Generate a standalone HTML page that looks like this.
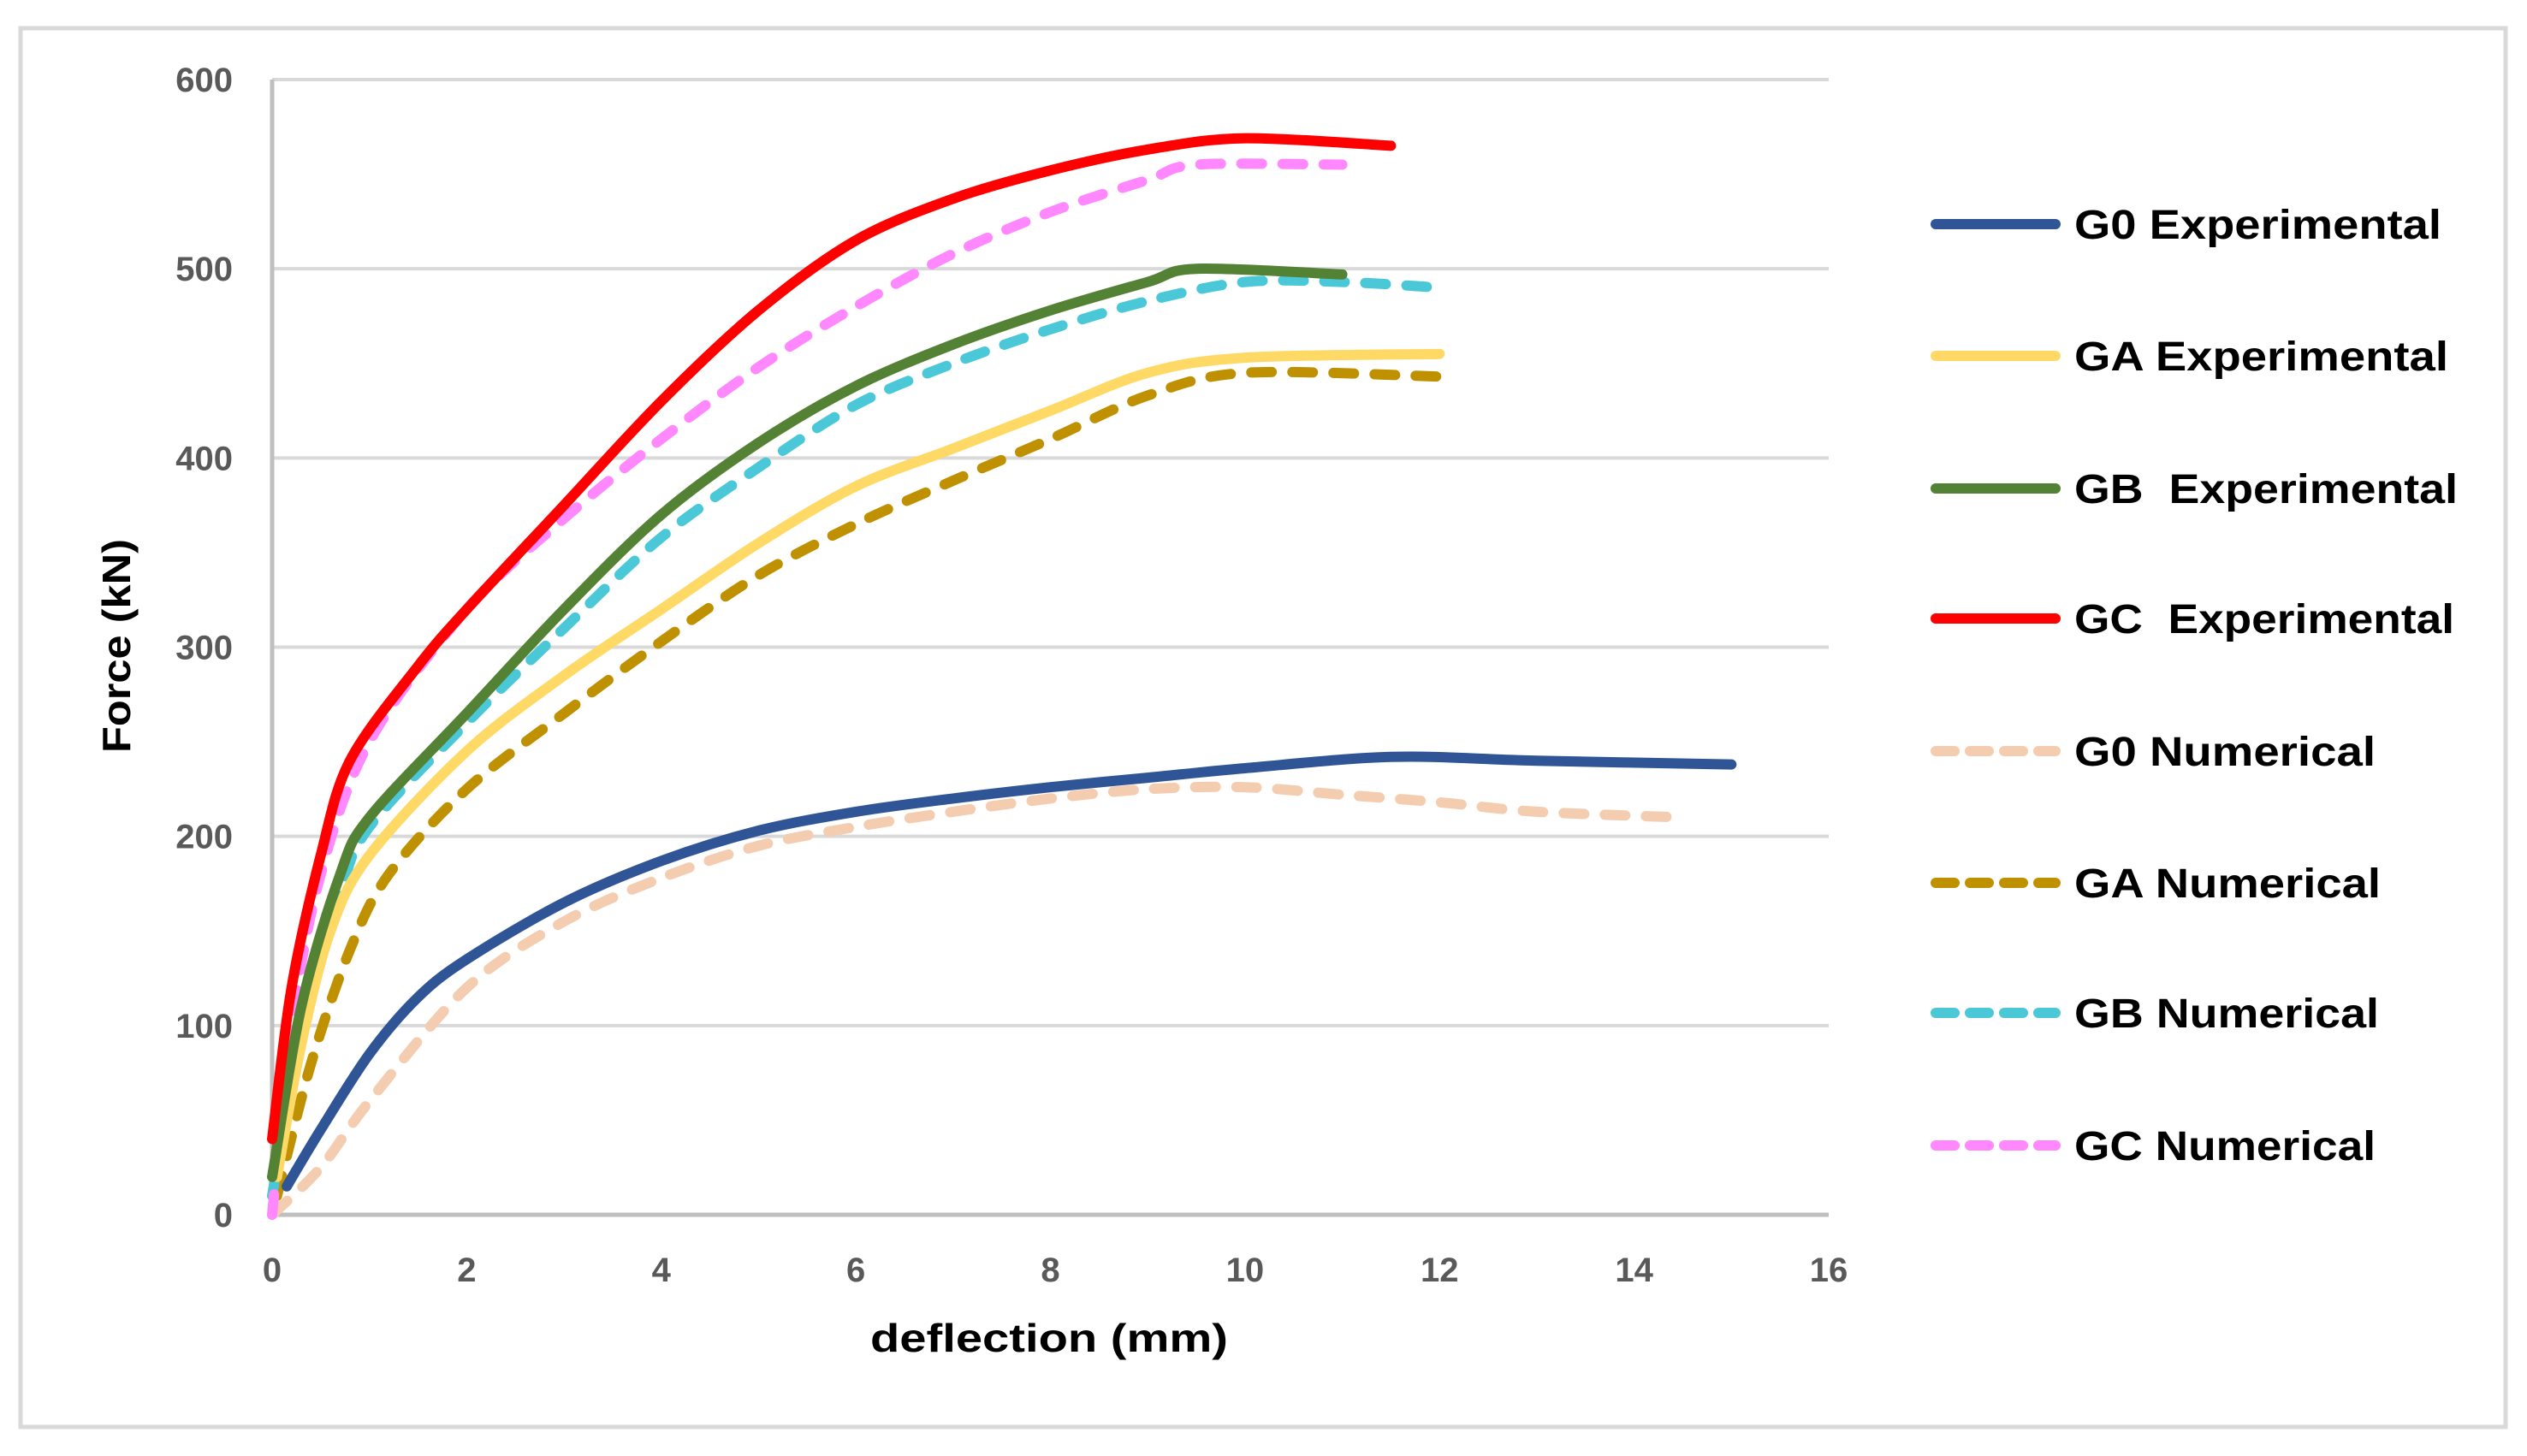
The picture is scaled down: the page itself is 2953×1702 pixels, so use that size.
<!DOCTYPE html>
<html><head><meta charset="utf-8"><style>
html,body{margin:0;padding:0;background:#fff;}
svg{display:block;font-family:"Liberation Sans",sans-serif;}
</style></head><body>
<svg id="chart" width="2953" height="1702" viewBox="0 0 2953 1702" xmlns="http://www.w3.org/2000/svg">
<rect x="24" y="33" width="2904" height="1635" fill="#fff" stroke="#d9d9d9" stroke-width="5"/>
<g id="grid"></g>
<g id="axes"></g>
<g id="series"></g>
<g id="legend"></g>
<text x="1226" y="1580" text-anchor="middle" font-size="46" font-weight="bold" fill="#000" textLength="418" lengthAdjust="spacingAndGlyphs">deflection (mm)</text>
<text transform="translate(152,755) rotate(-90)" text-anchor="middle" font-size="46" font-weight="bold" fill="#000" textLength="250" lengthAdjust="spacingAndGlyphs">Force (kN)</text>
</svg>
<script>
const xTicks=[0,2,4,6,8,10,12,14,16];
const yTicks=[0,100,200,300,400,500,600];
const seriesNames=["G0 Experimental","GA Experimental","GB\u00a0\u00a0Experimental","GC\u00a0\u00a0Experimental","G0 Numerical","GA Numerical","GB Numerical","GC Numerical"];
const legendWidths=[429,437,448,444,352,358,356,352];
const seriesColors=["#2F5597","#FFD966","#548235","#FF0000","#F4CCB0","#BF9000","#4BC8D8","#FF88FF"];
const seriesDashed=[false,false,false,false,true,true,true,true];
const g0Exp=[[0.15,15],[0.5,45],[1,85],[1.5,115],[2,135],[3,165],[4,187],[5,203],[6,213],[7,220],[8,226],[9,231],[10,236],[11.5,242],[13,240],[15,238]];
const gaExp=[[0.05,20],[0.3,90],[0.6,150],[1,190],[2,245],[3,285],[4,320],[5,355],[6,385],[7,405],[8,425],[9,445],[10,453],[12,455]];
const gbExp=[[0,20],[0.3,110],[0.7,180],[1,210],[2,265],[3,320],[4,370],[5,408],[6,438],[7,460],[8,478],[9,493],[9.5,500],[11,497]];
const gcExp=[[0,40],[0.2,120],[0.5,190],[0.8,240],[1.5,290],[2,320],[3,375],[4,430],[5,478],[6,515],[7,537],[8,552],[9,563],[10,569],[11.5,565]];
const g0Num=[[0,0],[0.5,25],[1,60],[2,120],[3,155],[4,178],[5,195],[6,205],[7,213],[8,220],[9,225],[10,226],[11,222],[12,218],[13,213],[14.5,210]];
const gaNum=[[0.05,10],[0.4,80],[0.8,140],[1.2,180],[2,225],[3,265],[4,303],[5,338],[6,365],[7,388],[8,410],[9,433],[10,445],[12,443]];
const gbNum=[[0,10],[0.3,100],[0.7,170],[1,205],[2,260],[3,310],[4,358],[5,395],[6,428],[7,450],[8,468],[9,483],[10,493],[11,493],[12,490]];
const gcNum=[[0,0],[0.2,100],[0.5,180],[1,250],[2,320],[3,368],[4,410],[5,448],[6,480],[7,508],[8,530],[9,547],[9.5,555],[11,555]];
const allSeries=[g0Exp,gaExp,gbExp,gcExp,g0Num,gaNum,gbNum,gcNum];
const X0=318,X1=2137,Y0=1420,Y1=93;
function sx(v){return X0+(v-0)/(16-0)*(X1-X0);}
function sy(v){return Y0-(v-0)/(600-0)*(Y0-Y1);}
const NS="http://www.w3.org/2000/svg";
function mk(tag,attrs,parent){const e=document.createElementNS(NS,tag);for(const k in attrs)e.setAttribute(k,attrs[k]);parent.appendChild(e);return e;}
function smooth(pts){
  let d='M'+pts[0][0].toFixed(1)+' '+pts[0][1].toFixed(1);
  for(let i=0;i<pts.length-1;i++){
    const p0=pts[Math.max(0,i-1)],p1=pts[i],p2=pts[i+1],p3=pts[Math.min(pts.length-1,i+2)];
    const t=0.16;
    const c1=[p1[0]+(p2[0]-p0[0])*t,p1[1]+(p2[1]-p0[1])*t];
    const c2=[p2[0]-(p3[0]-p1[0])*t,p2[1]-(p3[1]-p1[1])*t];
    d+=' C'+c1[0].toFixed(1)+' '+c1[1].toFixed(1)+' '+c2[0].toFixed(1)+' '+c2[1].toFixed(1)+' '+p2[0].toFixed(1)+' '+p2[1].toFixed(1);
  }
  return d;
}
const grid=document.getElementById('grid'),axes=document.getElementById('axes'),ser=document.getElementById('series'),leg=document.getElementById('legend');
yTicks.forEach(t=>{
  if(t>0){const l=mk('line',{x1:X0,x2:X1,y1:sy(t),y2:sy(t),stroke:'#d9d9d9','stroke-width':4},grid);
  
  }
  const tx=mk('text',{x:272,y:sy(t)+14,'text-anchor':'end','font-size':40,'font-weight':'bold',fill:'#595959'},axes);
  tx.textContent=t;
  
  
});
xTicks.forEach(t=>{
  const tx=mk('text',{x:sx(t),y:1498,'text-anchor':'middle','font-size':40,'font-weight':'bold',fill:'#595959'},axes);
  tx.textContent=t;
  
  
});
const xa=mk('line',{x1:X0,x2:X1,y1:Y0,y2:Y0,stroke:'#bfbfbf','stroke-width':5},axes);


const ya=mk('line',{x1:X0,x2:X0,y1:Y0,y2:Y1,stroke:'#bfbfbf','stroke-width':5},axes);


const order=[4,5,6,7,0,1,2,3];
order.forEach(i=>{
  const d=smooth(allSeries[i].map(p=>[sx(p[0]),sy(p[1])]));
  const a={d:d,fill:'none',stroke:seriesColors[i],'stroke-width':12,'stroke-linejoin':'round','stroke-linecap':'round'};
  if(seriesDashed[i])a['stroke-dasharray']='24 24';
  const p=mk('path',a,ser);
  
  
});
const legY=[262,416,571,723,878,1032,1184,1339];
seriesNames.forEach((n,i)=>{
  const a={x1:2262,x2:2402,y1:legY[i],y2:legY[i],stroke:seriesColors[i],'stroke-width':12,'stroke-linecap':'round'};
  if(seriesDashed[i])a['stroke-dasharray']='22 18';
  const l=mk('line',a,leg);
  
  
  const t=mk('text',{x:2424,y:legY[i]+17,'font-size':48,'font-weight':'bold',fill:'#000',textLength:legendWidths[i],lengthAdjust:'spacingAndGlyphs'},leg);
  t.textContent=n;
  
  
});
</script>
</body></html>
